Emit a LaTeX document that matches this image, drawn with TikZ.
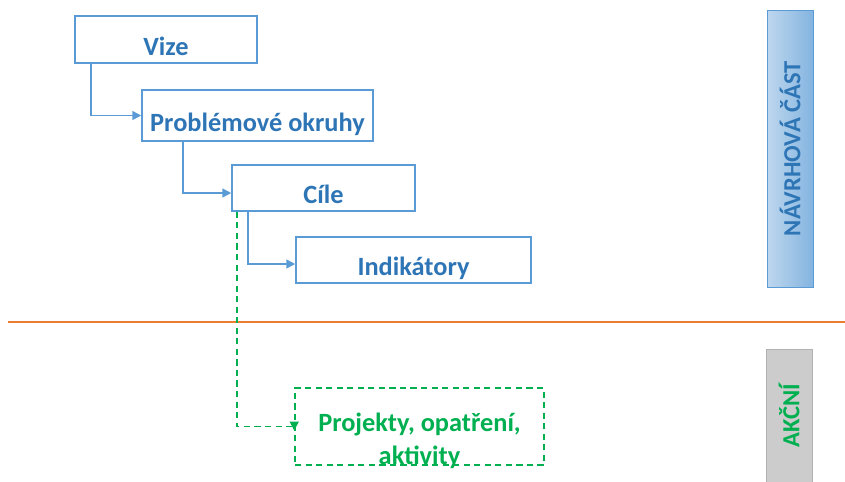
\documentclass[tikz,border=0pt]{standalone}
\usepackage{fontspec}
\setmainfont{Carlito}
\usetikzlibrary{positioning,calc,arrows.meta}

\definecolor{txtblue}{HTML}{2E75B6}
\definecolor{lineblue}{HTML}{5B9BD5}
\definecolor{actgreen}{HTML}{00B050}
\definecolor{sepor}{HTML}{ED7D31}

\begin{document}
\begin{tikzpicture}[x=0.02cm, y=-0.02cm, >={Triangle[length=5pt,width=5pt]},
    box/.style={draw=lineblue, line width=0.9pt, text=txtblue, inner sep=0pt,
        font=\bfseries\fontsize{15}{17}\selectfont, text height=0.7cm, text depth=0.08cm},
    link/.style={draw=lineblue, line width=0.9pt, ->},
    actline/.style={actgreen, line width=0.9pt, dash pattern=on 3.5pt off 2.5pt},
    sidebox/.style={rotate=90, inner sep=0pt, minimum height=0.92cm,
        font=\bfseries\fontsize{14}{16}\selectfont}]
    \useasboundingbox (0,0) rectangle (845,481);

    % plan boxes
    \node[box, minimum width=3.64cm, minimum height=0.94cm] (vize) at (166,39.5) {Vize};
    \node[box, minimum width=4.62cm, minimum height=1.02cm] (okruhy) at (257.5,115.5) {Problémové okruhy};
    \node[box, minimum width=3.66cm, minimum height=0.92cm] (cile) at (323.5,188) {Cíle};
    \node[box, minimum width=4.7cm, minimum height=0.92cm] (indik) at (413.5,260) {Indikátory};

    \draw[link] ([xshift=0.34cm]vize.south west) |- (okruhy.west);
    \draw[link] ([xshift=0.84cm]okruhy.south west) |- ($(cile.west)+(0,5)$);
    \draw[link] ([xshift=0.34cm]cile.south west) |- ($(indik.west)+(0,4)$);

    % separator
    \coordinate (sepL) at (8,322);
    \coordinate (sepR) at (845,322);
    \draw[sepor, line width=1.3pt] (sepL) -- (sepR);

    % action box
    \node[actline, draw, minimum width=4.98cm, minimum height=1.54cm] (proj) at (419.5,426.5) {};
    \node[text=actgreen, align=center, inner sep=0pt,
        font=\bfseries\fontsize{15}{19}\selectfont] (projtxt) at (419.5,441) {Projekty, opatření,\\aktivity};
    \draw[actline, ->] ([xshift=0.12cm]cile.south west) |- (proj.west) -- ($(proj.west)+(0,4)$);

    % side labels
    \node[sidebox, draw=lineblue, left color=lineblue!40, right color=lineblue!75,
        text=txtblue, minimum width=5.54cm] (navrh) at (790,148.5) {NÁVRHOVÁ ČÁST};
    \node[sidebox, draw=black!30, fill=black!20, text=actgreen,
        minimum width=2.66cm] (akcni) at (789,415.5) {AKČNÍ};
\end{tikzpicture}
\end{document}
